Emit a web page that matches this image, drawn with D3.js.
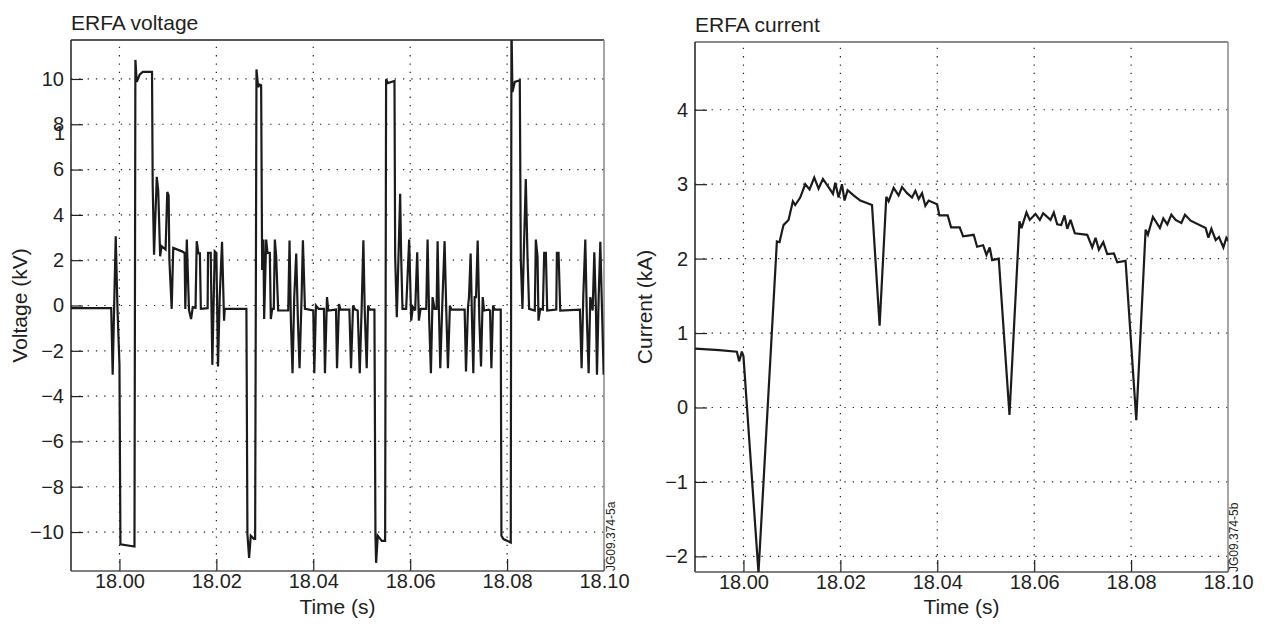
<!DOCTYPE html>
<html>
<head>
<meta charset="utf-8">
<script src="https://cdn.jsdelivr.net/npm/d3@7"></script>
<style>
  body { margin: 0; background: #fff; }
  text { font-family: "Liberation Sans", Arial, sans-serif; fill: #231f20; }
</style>
</head>
<body>
<svg id="chart" width="1265" height="626"></svg>
<script>
'use strict';

// shared time axis
var timeTicks = [18.00, 18.02, 18.04, 18.06, 18.08, 18.10];
var voltTicks = [-10, -8, -6, -4, -2, 0, 2, 4, 6, 8, 10];
var currTicks = [-2, -1, 0, 1, 2, 3, 4];

// ERFA voltage, [time (s), kV]
var voltage = [
  [17.9900,-0.12],[17.9983,-0.12],[17.9986,-3.06],[17.99895,0.37],[17.99923,3.06],[17.99958,-0.07],
  [18.0000,-2.6],[18.0002,-10.54],[18.0031,-10.64],[18.00329,10.84],[18.00357,9.87],[18.0042,10.2],
  [18.00483,10.31],[18.00672,10.31],[18.00686,5.31],[18.00714,2.24],[18.0077,5.68],[18.0080,5.08],
  [18.0084,2.17],[18.00868,2.62],[18.00952,2.47],[18.00987,5.01],[18.01015,4.86],[18.0103,2.02],
  [18.01078,-0.15],[18.0111,2.54],[18.0129,2.39],[18.01345,2.32],[18.01359,-0.15],[18.0139,2.91],
  [18.01435,-0.2],[18.01478,-0.6],[18.01513,-0.07],[18.0157,-0.1],[18.01595,2.84],[18.0163,2.3],
  [18.0166,2.3],[18.0168,-0.15],[18.0182,-0.12],[18.01828,2.32],[18.01883,2.32],[18.01917,-2.62],
  [18.01966,2.39],[18.0200,2.32],[18.02034,-2.69],[18.02069,0.37],[18.02117,2.81],[18.02159,-0.67],
  [18.02172,-0.15],[18.0262,-0.15],[18.02641,-10.09],[18.02676,-11.14],[18.0271,-10.16],[18.02779,-10.31],
  [18.028,-10.3],[18.02828,10.42],[18.02862,9.64],[18.02895,9.75],[18.02924,9.72],[18.02945,1.57],
  [18.02972,2.91],[18.02986,-0.6],[18.03028,2.91],[18.03055,2.32],[18.03103,2.32],[18.03124,-0.6],
  [18.03152,-0.15],[18.03185,-0.15],[18.03207,2.91],[18.03234,2.17],[18.03276,-0.22],[18.03483,-0.22],
  [18.0351,2.87],[18.03538,-0.67],[18.03572,-2.99],[18.03607,0.37],[18.03648,2.29],[18.03683,-0.67],
  [18.03717,-2.77],[18.03759,0.37],[18.03786,2.88],[18.03828,-0.15],[18.0400,-0.22],[18.04021,-2.99],
  [18.04055,0],[18.0411,-0.15],[18.0422,-0.15],[18.04241,-2.99],[18.04283,0.37],[18.0431,-0.22],
  [18.04469,-0.18],[18.0449,-2.77],[18.04531,0.07],[18.04559,-0.18],[18.04745,-0.18],[18.04779,-2.77],
  [18.04821,0],[18.04862,-0.18],[18.04917,-0.22],[18.04959,-2.99],[18.0500,0],[18.05034,2.88],
  [18.05062,-0.22],[18.05103,-2.77],[18.05131,0],[18.05166,-0.18],[18.05262,-0.18],[18.05283,-10.16],
  [18.05297,-11.36],[18.05331,-10.16],[18.05414,-10.39],[18.05483,-10.39],[18.05503,9.99],[18.05538,9.82],
  [18.05676,9.91],[18.0569,2.17],[18.05724,-0.52],[18.05759,2.17],[18.05793,4.93],[18.05814,2.17],
  [18.05841,-0.15],[18.05917,-0.15],[18.05979,2.91],[18.06021,-0.67],[18.06055,-0.07],[18.06103,-0.22],
  [18.06145,2.35],[18.06179,-0.67],[18.06214,-0.15],[18.06331,-0.15],[18.06359,2.91],[18.06393,-0.67],
  [18.06428,-2.99],[18.06462,0.37],[18.06503,-0.15],[18.06545,-0.15],[18.06566,2.84],[18.06593,-0.22],
  [18.06621,-2.77],[18.06662,0],[18.0671,2.84],[18.06745,-0.22],[18.06779,-2.77],[18.0682,0],
  [18.06848,-0.18],[18.07124,-0.18],[18.07152,-2.91],[18.07193,-0.07],[18.07214,0.37],[18.07248,2.29],
  [18.07276,-0.67],[18.07303,-2.99],[18.07331,0.37],[18.07359,0.37],[18.07393,2.87],[18.07428,-0.67],
  [18.07462,-2.69],[18.07497,0.37],[18.07524,-0.22],[18.07621,-0.18],[18.07648,-0.22],[18.07676,-2.77],
  [18.0771,0],[18.07745,-0.18],[18.07869,-0.18],[18.07883,-10.16],[18.07924,-10.31],[18.08076,-10.46],
  [18.0809,12.5],[18.0811,9.42],[18.08159,9.87],[18.08262,9.94],[18.08283,2.02],[18.08317,-0.15],
  [18.08345,2.32],[18.08386,5.58],[18.08421,2.17],[18.08455,-0.15],[18.08572,-0.22],[18.08593,2.91],
  [18.08628,2.17],[18.08648,-0.67],[18.08683,-0.15],[18.08738,-0.18],[18.08766,2.32],[18.088,2.32],
  [18.08828,-0.22],[18.09015,-0.18],[18.09028,2.32],[18.09062,2.32],[18.09097,-0.22],[18.09503,-0.18],
  [18.09538,-2.77],[18.09572,0.37],[18.09614,2.91],[18.09648,-0.67],[18.09683,-2.99],[18.09717,0.37],
  [18.09766,-0.22],[18.098,2.35],[18.09834,-0.22],[18.09855,-3.06],[18.0989,0.37],[18.09924,2.81],
  [18.09959,-0.22],[18.09993,-3.06]
];

// ERFA current, [time (s), kA]
var current = [
  [17.9900,0.79],[17.9950,0.77],[17.99864,0.75],[17.99911,0.62],[17.99967,0.75],[18.0000,0.69],
  [18.0031,-2.22],[18.0069,2.23],[18.00744,2.22],[18.00826,2.45],[18.0093,2.52],[18.0102,2.77],
  [18.01068,2.72],[18.01171,2.82],[18.01275,3.0],[18.01364,2.93],[18.01461,3.09],[18.0155,2.94],
  [18.0164,3.07],[18.01777,2.94],[18.01847,2.87],[18.01895,3.02],[18.01963,2.82],[18.02033,3.0],
  [18.02087,2.78],[18.02149,2.92],[18.02273,2.85],[18.02411,2.78],[18.02653,2.72],[18.0281,1.1],
  [18.02948,2.83],[18.02996,2.77],[18.03099,2.95],[18.03202,2.85],[18.03273,2.96],[18.03376,2.88],
  [18.03479,2.82],[18.03548,2.91],[18.03616,2.8],[18.03686,2.88],[18.03754,2.71],[18.03822,2.78],
  [18.03996,2.73],[18.04043,2.58],[18.04215,2.58],[18.04285,2.42],[18.04463,2.42],[18.04533,2.3],
  [18.04752,2.32],[18.04822,2.16],[18.04946,2.18],[18.05015,2.05],[18.05083,2.15],[18.05132,1.98],
  [18.05269,2.0],[18.0549,-0.1],[18.05696,2.5],[18.05738,2.41],[18.05841,2.62],[18.05909,2.52],
  [18.06027,2.6],[18.06116,2.52],[18.06186,2.61],[18.06337,2.52],[18.06405,2.62],[18.06475,2.46],
  [18.06558,2.45],[18.06626,2.58],[18.06682,2.4],[18.0675,2.52],[18.06839,2.34],[18.07095,2.32],
  [18.07198,2.15],[18.07267,2.28],[18.07335,2.12],[18.07426,2.22],[18.07508,2.06],[18.07645,2.07],
  [18.07715,1.95],[18.07886,1.97],[18.08107,-0.17],[18.083,2.39],[18.08347,2.32],[18.0845,2.56],
  [18.08595,2.41],[18.08665,2.54],[18.08748,2.46],[18.08831,2.59],[18.08919,2.52],[18.09037,2.48],
  [18.09112,2.59],[18.09229,2.51],[18.09539,2.41],[18.09595,2.28],[18.09657,2.4],[18.09746,2.25],
  [18.09814,2.29],[18.09905,2.15],[18.09967,2.28],[18.1002,2.23]
];

var svg = d3.select("#chart");
svg.append("rect").attr("width", 1265).attr("height", 626).attr("fill", "#fff");

function drawPanel(opt) {
  var x = d3.scaleLinear().domain([17.99, 18.10]).range([opt.left, opt.right]);
  var y = d3.scaleLinear().domain(opt.yDomain).range([opt.bottom, opt.top]);
  var g = svg.append("g");

  // dotted grid
  g.append("g").selectAll("line").data(timeTicks.slice(0, -1)).enter().append("line")
    .attr("x1", function(d) { return x(d); }).attr("x2", function(d) { return x(d); })
    .attr("y1", opt.bottom).attr("y2", opt.top)
    .attr("stroke", "#222").attr("stroke-width", 1.2).attr("stroke-dasharray", "1.3,7");
  g.append("g").selectAll("line").data(opt.yTicks).enter().append("line")
    .attr("y1", function(d) { return y(d); }).attr("y2", function(d) { return y(d); })
    .attr("x1", opt.left).attr("x2", opt.right)
    .attr("stroke", "#222").attr("stroke-width", 1.2).attr("stroke-dasharray", "1.3,7");

  // axes, ticks pointing in
  var xAxis = g.append("g").attr("transform", "translate(0," + opt.bottom + ")")
    .call(d3.axisBottom(x).tickValues(timeTicks).tickFormat(d3.format(".2f"))
      .tickSizeInner(-12).tickSizeOuter(0).tickPadding(4));
  var yAxis = g.append("g").attr("transform", "translate(" + opt.left + ",0)")
    .call(d3.axisLeft(y).tickValues(opt.yTicks).tickSizeInner(-12).tickSizeOuter(0).tickPadding(7));
  [xAxis, yAxis].forEach(function(a) {
    a.select(".domain").remove();
    a.selectAll(".tick line").attr("stroke", "#231f20").attr("stroke-width", 1.2);
    a.selectAll(".tick text").style("font-size", "20px").attr("fill", "#231f20");
  });
  xAxis.selectAll(".tick text").attr("y", 3).attr("dy", "0.71em");

  // frame
  g.append("line").attr("x1", opt.left).attr("x2", opt.right).attr("y1", opt.top).attr("y2", opt.top)
    .attr("stroke", opt.topColor).attr("stroke-width", 1.5);
  g.append("line").attr("x1", opt.right).attr("x2", opt.right).attr("y1", opt.top).attr("y2", opt.bottom)
    .attr("stroke", "#888").attr("stroke-width", 1.5);
  g.append("line").attr("x1", opt.left).attr("x2", opt.left).attr("y1", opt.top).attr("y2", opt.bottom)
    .attr("stroke", "#231f20").attr("stroke-width", 1.5);
  g.append("line").attr("x1", opt.left).attr("x2", opt.right).attr("y1", opt.bottom).attr("y2", opt.bottom)
    .attr("stroke", "#555").attr("stroke-width", 1.5);

  // trace
  g.append("clipPath").attr("id", opt.id + "-clip").append("rect")
    .attr("x", opt.left).attr("y", opt.top)
    .attr("width", opt.right - opt.left).attr("height", opt.bottom - opt.top);
  g.append("path").datum(opt.data)
    .attr("clip-path", "url(#" + opt.id + "-clip)")
    .attr("fill", "none").attr("stroke", "#1b1b1b").attr("stroke-width", 2.2)
    .attr("stroke-linejoin", "miter").attr("stroke-miterlimit", 3)
    .attr("d", d3.line().x(function(d) { return x(d[0]); }).y(function(d) { return y(d[1]); }));

  // texts
  g.append("text").attr("x", opt.left).attr("y", opt.top - 10)
    .style("font-size", "21px").text(opt.title);
  g.append("text").attr("x", (opt.left + opt.right) / 2).attr("y", 614)
    .attr("text-anchor", "middle").style("font-size", "21px").text("Time (s)");
  g.append("text")
    .attr("transform", "translate(" + opt.yLabelX + "," + (opt.top + opt.bottom) / 2 + ") rotate(-90)")
    .attr("text-anchor", "middle").style("font-size", "21px").text(opt.yLabel);
  g.append("text")
    .attr("transform", "translate(" + opt.codeX + "," + opt.bottom + ") rotate(-90)")
    .style("font-size", "12px").text(opt.code);
  return { x: x, y: y };
}

var left = drawPanel({
  id: "volt", left: 71, right: 604, top: 40, bottom: 571,
  yDomain: [-11.72, 11.72], yTicks: voltTicks, data: voltage,
  title: "ERFA voltage", yLabel: "Voltage (kV)", yLabelX: 27,
  code: "JG09.374-5a", codeX: 615, topColor: "#231f20"
});

// stray glyph printed over the "8" label in the original
svg.append("text").attr("x", 65).attr("y", left.y(8) + 16)
  .attr("text-anchor", "end").style("font-size", "20px").text("1");

drawPanel({
  id: "curr", left: 695, right: 1228, top: 42, bottom: 572,
  yDomain: [-2.21, 4.91], yTicks: currTicks, data: current,
  title: "ERFA current", yLabel: "Current (kA)", yLabelX: 652,
  code: "JG09.374-5b", codeX: 1238, topColor: "#666"
});
</script>
</body>
</html>
